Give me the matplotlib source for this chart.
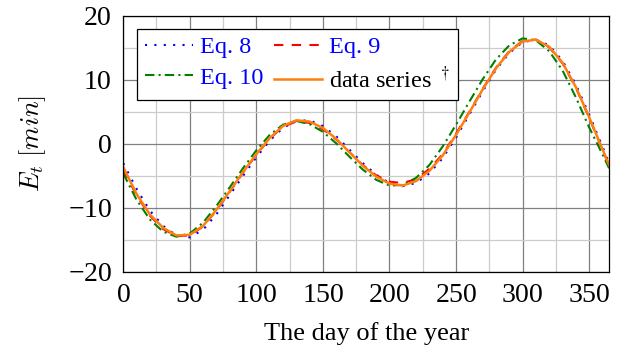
import numpy as np
import matplotlib.pyplot as plt
from matplotlib.ticker import MultipleLocator

plt.rcParams['font.family'] = ['Liberation Serif', 'DejaVu Serif']
plt.rcParams['mathtext.fontset'] = 'cm'
plt.rcParams['axes.formatter.use_mathtext'] = True

# day of the year
days = [0, 10, 20, 30, 40, 50, 60, 70, 80, 90, 100, 110, 120, 130, 140, 150, 160, 170, 180,
        190, 200, 210, 220, 230, 240, 250, 260, 270, 280, 290, 300, 310, 320, 330, 340, 350, 360, 365]

# equation of time [min]
eq8 = [-3.0, -7.0, -10.4, -12.8, -14.3, -14.6, -13.4, -11.0, -8.0, -5.0, -2.1, 0.5, 2.5, 3.6, 3.7, 2.8,
       1.2, -0.9, -3.0, -4.8, -6.1, -6.6, -6.1, -4.6, -2.2, 1.0, 4.6, 8.2, 11.6, 14.2, 15.9, 16.3,
       15.4, 13.0, 9.3, 4.6, -0.4, -3.0]
eq9 = [-4.0, -8.0, -11.2, -13.3, -14.4, -14.3, -12.9, -10.4, -7.5, -4.5, -1.7, 0.8, 2.7, 3.5, 3.3, 2.3,
       0.7, -1.3, -3.3, -4.9, -5.9, -6.1, -5.5, -3.9, -1.6, 1.6, 5.0, 8.6, 11.9, 14.5, 16.1, 16.3,
       15.1, 12.6, 8.8, 4.1, -0.9, -3.4]
eq10 = [-4.6, -8.7, -11.8, -13.7, -14.5, -14.0, -12.3, -9.7, -6.8, -3.8, -1.0, 1.4, 3.0, 3.6, 3.1, 1.9,
        0.1, -2.0, -4.0, -5.6, -6.5, -6.4, -5.3, -3.3, -0.4, 3.0, 6.6, 10.1, 13.2, 15.4, 16.5, 16.2,
        14.5, 11.5, 7.3, 2.6, -1.6, -3.8]
data_series = [-3.6, -7.8, -11.0, -13.1, -14.3, -14.2, -12.8, -10.3, -7.4, -4.4, -1.6, 0.9, 2.8, 3.7, 3.5,
               2.5, 0.8, -1.3, -3.4, -5.1, -6.2, -6.5, -5.8, -4.2, -1.8, 1.4, 4.9, 8.5, 11.8, 14.4, 16.0,
               16.3, 15.2, 12.7, 8.9, 4.2, -0.8, -3.3]

fig = plt.figure(figsize=(6.19, 3.55), dpi=100)
ax = fig.add_axes([0.199, 0.234, 0.785, 0.721])

l8, = ax.plot(days, eq8, color='blue', linestyle=(0, (1, 3.5)), lw=1.5, label='Eq. 8')
l9, = ax.plot(days, eq9, color='red', linestyle=(0, (4.5, 4)), lw=1.5, label='Eq. 9')
l10, = ax.plot(days, eq10, color='green', linestyle=(0, (4.5, 2, 1, 2)), lw=1.5, label='Eq. 10')
ld, = ax.plot(days, data_series, color='#ff7f0e', lw=1.8, label='data series $^\\dagger$')

ax.set_xlim(0, 365)
ax.set_ylim(-20, 20)
ax.xaxis.set_major_locator(MultipleLocator(50))
ax.xaxis.set_minor_locator(MultipleLocator(25))
ax.yaxis.set_major_locator(MultipleLocator(10))
ax.yaxis.set_minor_locator(MultipleLocator(5))
ax.grid(which='major', color='#808080', lw=0.9)
ax.grid(which='minor', color='#cccccc', lw=0.9)
ax.set_axisbelow(True)
ax.tick_params(which='both', direction='in', length=0, labelsize=20, pad=8)
for s in ax.spines.values():
    s.set_linewidth(0.9)

ax.set_xlabel('The day of the year', fontsize=19, labelpad=10)
ax.set_ylabel('$E_t\\ [min]$', fontsize=19, labelpad=14)

leg = ax.legend(handles=[l8, l10, l9, ld], ncol=2, loc='upper left',
                bbox_to_anchor=(0.029, 0.949), borderaxespad=0, fontsize=17.5,
                fancybox=False, edgecolor='black', framealpha=1,
                handlelength=2.0, columnspacing=0.4, handletextpad=0.3,
                borderpad=0.3, labelspacing=0.35)
leg.get_frame().set_linewidth(0.9)
for t in leg.get_texts():
    if t.get_text().startswith('Eq'):
        t.set_color('blue')

fig.savefig('out.png', dpi=100)
